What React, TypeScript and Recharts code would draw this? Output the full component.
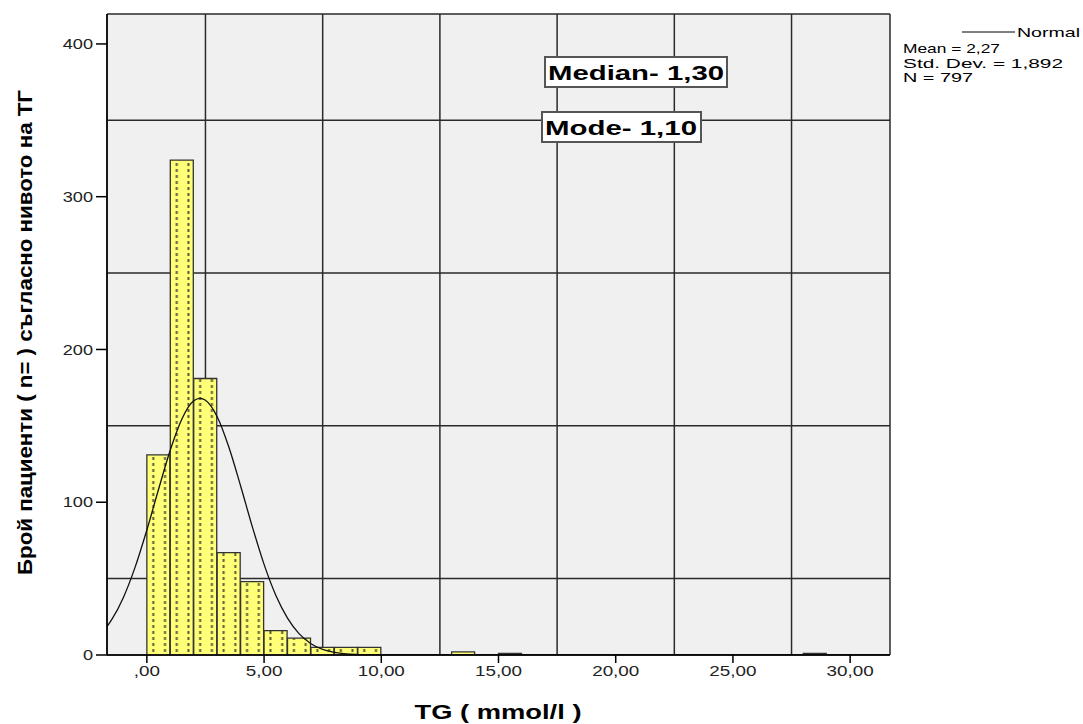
import React from "react";
import {
  ComposedChart,
  Bar,
  Line,
  XAxis,
  YAxis,
  CartesianGrid,
} from "recharts";

// histogram bins (width 1 mmol/l), keyed by bin middle
const binMids = [0.5, 1.5, 2.5, 3.5, 4.5, 5.5, 6.5, 7.5, 8.5, 9.5, 13.5, 15.5, 28.5];
const binCounts = [131, 324, 181, 67, 48, 16, 11, 5, 5, 5, 2, 1, 1];

// normal curve
const curveX = [-1.7, -1.5, -1, -0.5, 0, 0.5, 1, 1.5, 2, 2.27, 2.5, 3, 3.5, 4, 4.5, 5, 5.5, 6, 6.5, 7, 7.5, 8, 8.5, 9, 9.5, 10, 12, 31.7];
const curveY = [18.6, 23.1, 37.7, 57.5, 81.8, 108.5, 134.2, 154.7, 166.4, 168, 166.8, 156, 136, 110.6, 83.9, 59.3, 39.1, 24.1, 13.8, 7.4, 3.7, 1.7, 0.7, 0.3, 0.1, 0, 0, 0];

const xTicks = [0, 5, 10, 15, 20, 25, 30];
const xTickLabels = [",00", "5,00", "10,00", "15,00", "20,00", "25,00", "30,00"];
const yTicks = [0, 100, 200, 300, 400];
const gridX = [2.5, 7.5, 12.5, 17.5, 22.5, 27.5];
const gridY = [50, 150, 250, 350];

const X_DOMAIN: [number, number] = [-1.7, 31.7];
const Y_DOMAIN: [number, number] = [0, 419.6];

const FONT = "'Liberation Sans', Arial, sans-serif";

const bins = binMids.map((mid, i) => ({ mid, count: binCounts[i] }));
const curve = curveX.map((x, i) => ({ cx: x, normal: curveY[i] }));

function XTick(props: any) {
  const { x, y, index } = props;
  return (
    <text
      transform={`translate(${x},${y}) scale(1.3,1)`}
      dy="0.71em"
      textAnchor="middle"
      fontSize={14.5}
      fontFamily={FONT}
      fill="#222"
    >
      {xTickLabels[index]}
    </text>
  );
}

function YTick(props: any) {
  const { x, y, payload } = props;
  return (
    <text
      transform={`translate(${x},${y}) scale(1.25,1)`}
      dy="0.355em"
      textAnchor="end"
      fontSize={14.5}
      fontFamily={FONT}
      fill="#222"
    >
      {payload.value}
    </text>
  );
}

function Boxed({ x, y, w, h, text, tl }: { x: number; y: number; w: number; h: number; text: string; tl: number }) {
  return (
    <g>
      <rect x={x} y={y} width={w} height={h} fill="#fff" stroke="#555" strokeWidth={2} />
      <text
        x={x + 3}
        y={y + h / 2 + 7.5}
        fontSize={21}
        fontWeight="bold"
        fontFamily={FONT}
        fill="#000"
        textLength={tl}
        lengthAdjust="spacingAndGlyphs"
      >
        {text}
      </text>
    </g>
  );
}

export default function App() {
  return (
    <div style={{ position: "absolute", left: 0, top: 0, background: "#fff" }}>
      <ComposedChart
        width={1083}
        height={724}
        data={bins}
        margin={{ top: 14, right: 193, bottom: 0, left: 0 }}
        barCategoryGap={0}
        barGap={0}
      >
        <defs>
          <pattern id="dots" patternUnits="userSpaceOnUse" x={147} y={0} width={11.72} height={6}>
            <rect width={11.72} height={6} fill="#ffff78" />
            <rect x={5.3} y={1} width={2} height={3} fill="#5a5a38" />
          </pattern>
        </defs>

        <XAxis xAxisId="g" type="number" dataKey="mid" domain={X_DOMAIN} ticks={gridX} hide allowDataOverflow />
        <YAxis yAxisId="g" type="number" domain={Y_DOMAIN} ticks={gridY} hide allowDataOverflow />
        <XAxis xAxisId="c" type="number" dataKey="cx" domain={X_DOMAIN} hide allowDataOverflow />
        <CartesianGrid
          xAxisId="g"
          yAxisId="g"
          stroke="#2a2a2a"
          strokeWidth={1.5}
          fill="#f0f0f0"
          fillOpacity={1}
        />

        <XAxis
          type="number"
          dataKey="mid"
          domain={X_DOMAIN}
          ticks={xTicks}
          allowDataOverflow
          height={69}
          tickSize={8}
          tickMargin={3}
          tick={<XTick />}
          axisLine={{ stroke: "#000", strokeWidth: 1.5 }}
          tickLine={{ stroke: "#000", strokeWidth: 1.5 }}
        />
        <YAxis
          type="number"
          domain={Y_DOMAIN}
          ticks={yTicks}
          allowDataOverflow
          width={107}
          tickSize={11}
          tickMargin={3}
          tick={<YTick />}
          axisLine={{ stroke: "#000", strokeWidth: 1.5 }}
          tickLine={{ stroke: "#000", strokeWidth: 1.5 }}
        />
        <XAxis xAxisId="top" orientation="top" type="number" dataKey="mid" domain={X_DOMAIN} height={0} tick={false} tickLine={false} axisLine={{ stroke: "#333", strokeWidth: 1.5 }} />
        <YAxis yAxisId="right" orientation="right" type="number" domain={Y_DOMAIN} width={0} tick={false} tickLine={false} axisLine={{ stroke: "#333", strokeWidth: 1.5 }} />

        <Bar dataKey="count" fill="url(#dots)" stroke="#333" strokeWidth={1.3} isAnimationActive={false} />
        <Line
          xAxisId="c"
          data={curve}
          dataKey="normal"
          type="monotone"
          stroke="#111"
          strokeWidth={1.3}
          dot={false}
          activeDot={false}
          isAnimationActive={false}
        />

        {/* axis titles */}
        <text
          transform="translate(32,332.5) rotate(-90)"
          textAnchor="middle"
          fontSize={21}
          fontWeight="bold"
          fontFamily={FONT}
          fill="#000"
          textLength={485}
          lengthAdjust="spacingAndGlyphs"
        >
          Брой пациенти ( n= )  съгласно нивото на ТГ
        </text>
        <text
          x={498}
          y={719}
          textAnchor="middle"
          fontSize={20}
          fontWeight="bold"
          fontFamily={FONT}
          fill="#000"
          textLength={167}
          lengthAdjust="spacingAndGlyphs"
        >
          TG ( mmol/l )
        </text>

        {/* annotations */}
        <Boxed x={545} y={57} w={182} h={30} text="Median- 1,30" tl={176} />
        <Boxed x={542} y={112} w={159} h={30} text="Mode- 1,10" tl={152} />

        {/* legend */}
        <line x1={962} y1={32} x2={1015} y2={32} stroke="#000" strokeWidth={1} />
        <g fontSize={13} fontFamily={FONT} fill="#000">
          <text x={1017} y={37} textLength={63} lengthAdjust="spacingAndGlyphs">Normal</text>
          <text x={903} y={53} textLength={97} lengthAdjust="spacingAndGlyphs">Mean = 2,27</text>
          <text x={903} y={68} textLength={160} lengthAdjust="spacingAndGlyphs">Std. Dev. = 1,892</text>
          <text x={903} y={82} textLength={70} lengthAdjust="spacingAndGlyphs">N = 797</text>
        </g>
      </ComposedChart>
    </div>
  );
}
